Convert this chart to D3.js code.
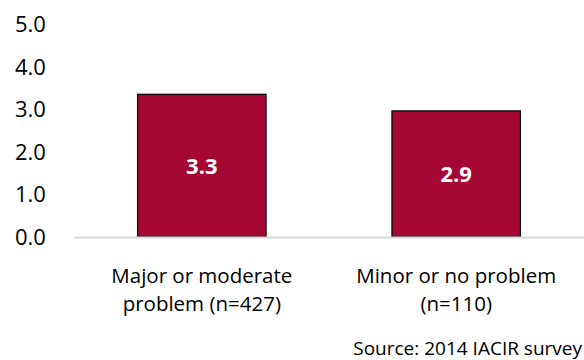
<!DOCTYPE html>
<html>
<head>
<meta charset="utf-8">
<script src="https://cdn.jsdelivr.net/npm/d3@7"></script>
<style>
  body { margin: 0; background: #fff; }
  text { font-family: "Open Sans", "Noto Sans", sans-serif; fill: #000; }
</style>
</head>
<body>
<div id="chart"></div>
<script>
const categories = [["Major or moderate", "problem (n=427)"], ["Minor or no problem", "(n=110)"]];
const values = [3.35, 2.96];
const valueLabels = ["3.3", "2.9"];
const tickValues = [0, 1, 2, 3, 4, 5];

const width = 584, height = 360;
const margin = { top: 24, right: 0, bottom: 123, left: 74 };

const svg = d3.select("#chart").append("svg")
  .attr("width", width)
  .attr("height", height);

const x = d3.scaleBand()
  .domain(d3.range(categories.length))
  .range([margin.left, width - margin.right])
  .paddingInner(0.495)
  .paddingOuter(0.25);

const y = d3.scaleLinear()
  .domain([0, 5])
  .range([height - margin.bottom, margin.top]);

// y tick labels (no axis line)
svg.selectAll("text.tick")
  .data(tickValues)
  .enter()
  .append("text")
  .attr("class", "tick")
  .attr("x", 15)
  .attr("y", d => y(d))
  .attr("dy", "0.36em")
  .style("font-size", "22px")
  .text(d => d3.format(".1f")(d));

svg.selectAll("rect.bar")
  .data(values)
  .enter()
  .append("rect")
  .attr("class", "bar")
  .attr("x", (d, i) => x(i))
  .attr("y", d => y(d))
  .attr("width", x.bandwidth())
  .attr("height", d => y(0) - y(d))
  .style("fill", "#a50734")
  .style("stroke", "#000")
  .style("stroke-width", 1.2);

// baseline
svg.append("line")
  .attr("x1", margin.left)
  .attr("x2", width)
  .attr("y1", y(0) + 0.5)
  .attr("y2", y(0) + 0.5)
  .style("stroke", "#d9d9d9")
  .style("stroke-width", 2);

svg.selectAll("text.valueLabel")
  .data(values)
  .enter()
  .append("text")
  .attr("class", "valueLabel")
  .attr("x", (d, i) => x(i) + x.bandwidth() / 2)
  .attr("y", d => (y(d) + y(0)) / 2)
  .attr("dy", "0.36em")
  .style("text-anchor", "middle")
  .style("font-size", "22px")
  .style("font-weight", "bold")
  .style("fill", "#fff")
  .text((d, i) => valueLabels[i]);

// category labels, two lines each
categories.forEach((lines, i) => {
  lines.forEach((s, j) => {
    svg.append("text")
      .attr("class", "cat")
      .attr("x", x(i) + x.bandwidth() / 2)
      .attr("y", y(0) + 46 + j * 28)
      .style("text-anchor", "middle")
      .style("font-size", "20.5px")
      .text(s);
  });
});

svg.append("text")
  .attr("x", 582)
  .attr("y", 355)
  .style("text-anchor", "end")
  .style("font-size", "19px")
  .text("Source: 2014 IACIR survey");
</script>
</body>
</html>
